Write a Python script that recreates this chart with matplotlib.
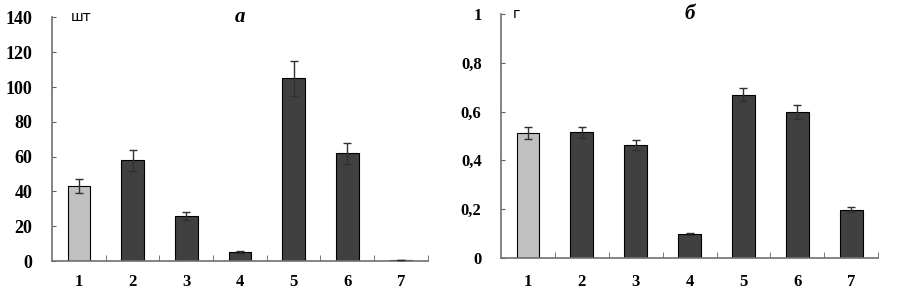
import matplotlib
matplotlib.use('Agg')
import matplotlib.pyplot as plt
import numpy as np

cats = ['1', '2', '3', '4', '5', '6', '7']
cnt = [43, 58, 26, 5, 105, 62, 0.5]
cnt_err = [4, 6, 2.3, 0.5, 10, 6, 0.2]
mass = [0.511, 0.515, 0.462, 0.097, 0.669, 0.598, 0.197]
mass_err = [0.025, 0.023, 0.02, 0.005, 0.027, 0.029, 0.01]
colors = ['#c0c0c0'] + ['#404040'] * 6

plt.rcParams['font.family'] = ['Liberation Serif', 'DejaVu Serif']

fig = plt.figure(figsize=(8.97, 2.90), dpi=100)
ax1 = fig.add_axes([0.058, 0.100, 0.419, 0.840])
ax2 = fig.add_axes([0.5585, 0.111, 0.4205, 0.840])

def style(ax, vals, errs, ymax, yt, ylab, unit, ux, title, fs, xpad):
    x = np.arange(1, len(vals) + 1)
    ax.bar(x, vals, width=0.42, color=colors, edgecolor='black', linewidth=0.8, zorder=2)
    ax.errorbar(x, vals, yerr=errs, fmt='none', ecolor='#303030', elinewidth=1, capsize=3, capthick=1, zorder=3)
    ax.set_xlim(0.5, 7.5)
    ax.set_ylim(0, ymax)
    ax.set_yticks(yt)
    ax.set_yticklabels(ylab, fontsize=fs, fontweight='bold')
    ax.set_xticks(x)
    ax.set_xticklabels(cats, fontsize=12, fontweight='bold')
    ax.set_xticks(np.arange(1.5, 8, 1), minor=True)
    ax.tick_params(axis='x', which='major', length=0, pad=xpad)
    ax.tick_params(axis='x', which='minor', direction='in', length=4, color='#606060')
    ax.tick_params(axis='y', direction='in', length=3, color='#606060', pad=14)
    for s in ['top', 'right']:
        ax.spines[s].set_visible(False)
    for s in ['left', 'bottom']:
        ax.spines[s].set_color('#707070')
        ax.spines[s].set_linewidth(1.2)
    ax.text(ux, 1.0, unit, transform=ax.transAxes, fontsize=10, va='center', ha='left',
            family=['DejaVu Sans'])
    ax.text(0.5, 1.0, title, transform=ax.transAxes, fontsize=15, va='center', ha='center',
            fontweight='bold', style='italic')

style(ax1, cnt, cnt_err, 140, [0, 20, 40, 60, 80, 100, 120, 140],
      ['0', '20', '40', '60', '80', '100', '120', '140'], 'шт', 0.05, 'а', 13, 9)
style(ax2, mass, mass_err, 1, [0, 0.2, 0.4, 0.6, 0.8, 1],
      ['0', '0,2', '0,4', '0,6', '0,8', '1'], 'г', 0.03, 'б', 12, 12)

fig.savefig('out.png', dpi=100)
